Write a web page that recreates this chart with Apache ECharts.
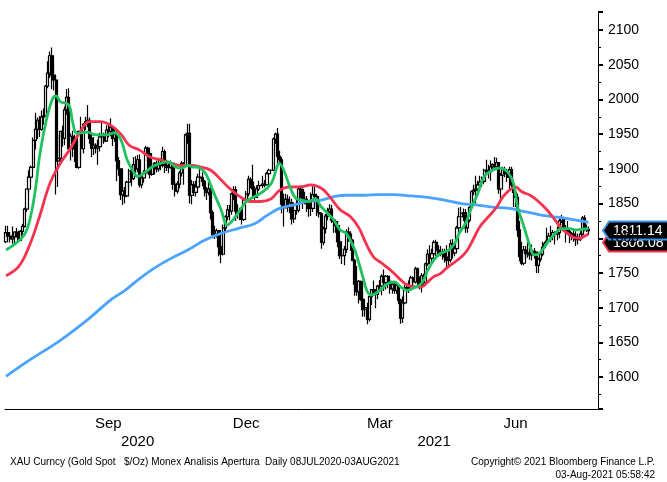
<!DOCTYPE html>
<html>
<head>
<meta charset="utf-8">
<script src="https://cdn.jsdelivr.net/npm/echarts@6/dist/echarts.min.js"></script>
<style>
  html, body { margin: 0; padding: 0; background: #fff; }
  #chart { width: 667px; height: 482px; }
</style>
</head>
<body>
<div id="chart"></div>
<script>
// XAU daily bars 08JUL2020 - 03AUG2021
const closeP = [
  1808,1803,1799,1802,1809,1807,1797,1810,1817,1842,1871,1888,1902,1941,1957,1970,1957,1975,
  1976,2019,2038,2063,2035,2028,1911,1915,1954,1944,1985,2003,1929,1947,1940,1929,1902,1954,1929,1964,1968,
  1970,1944,1930,1934,1930,1932,1946,1946,1940,1956,1954,1960,1944,1950,1912,1900,1863,1868,1861,1881,1897,1886,
  1906,1900,1913,1877,1887,1894,1930,1922,1892,1902,1908,1900,1905,1907,1925,1905,1902,1902,1908,1878,1868,1878,
  1894,1908,1904,1949,1951,1862,1877,1866,1874,1888,1887,1882,1871,1866,1871,1837,1805,1806,1811,1788,1777,
  1815,1831,1841,1839,1864,1870,1839,1837,1839,1827,1855,1864,1885,1881,1871,1859,1871,1876,1876,1878,1877,1893,1898,
  1898,1943,1950,1918,1913,1849,1844,1856,1845,1851,1828,1840,1840,1871,1870,1855,1856,1850,1843,1843,1863,
  1860,1837,1835,1794,1814,1832,1838,1842,1826,1824,1818,1795,1775,1775,1784,1809,1806,1797,1768,1734,
  1723,1738,1712,1697,1700,1683,1716,1726,1722,1719,1731,1731,1745,1736,1745,1738,1727,1734,1725,1732,1711,1685,1707,
  1728,1729,1728,1743,1737,1756,1744,1732,1746,1736,1763,1777,1771,1778,1794,1783,1777,1780,1778,1773,1768,1769,
  1792,1779,1785,1815,1831,1836,1837,1815,1826,1844,1867,1869,1871,1877,1881,1882,1898,1896,1896,1903,1906,
  1903,1909,1871,1891,1899,1893,1888,1899,1877,1866,1859,1812,1774,1764,1783,1778,1779,1776,1781,1780,1761,1770,
  1777,1787,1792,1796,1803,1803,1808,1806,1808,1825,1829,1812,1813,1810,1804,1806,1802,1798,1799,1806,1829,1814,
  1813,1811
];
const openP = [
  1795,1808,1803,1799,1802,1809,1807,1797,1810,1817,1842,1871,1888,1902,1941,1957,1970,1957,
  1975,1976,2019,2038,2063,2035,2028,1911,1915,1954,1944,1985,2003,1929,1947,1940,1929,1902,1954,1929,1964,
  1968,1970,1944,1930,1934,1930,1932,1946,1946,1940,1956,1954,1960,1944,1950,1912,1900,1863,1868,1861,1881,1897,
  1886,1906,1900,1913,1877,1887,1894,1930,1922,1892,1902,1908,1900,1905,1907,1925,1905,1902,1902,1908,1878,1868,
  1878,1894,1908,1904,1949,1951,1862,1877,1866,1874,1888,1887,1882,1871,1866,1871,1837,1805,1806,1811,1788,
  1777,1815,1831,1841,1839,1864,1870,1839,1837,1839,1827,1855,1864,1885,1881,1871,1859,1871,1876,1876,1878,1877,1893,
  1898,1898,1943,1950,1918,1913,1849,1844,1856,1845,1851,1828,1840,1840,1871,1870,1855,1856,1850,1843,1843,
  1863,1860,1837,1835,1794,1814,1832,1838,1842,1826,1824,1818,1795,1775,1775,1784,1809,1806,1797,1768,
  1734,1723,1738,1712,1697,1700,1683,1716,1726,1722,1719,1731,1731,1745,1736,1745,1738,1727,1734,1725,1732,1711,1685,
  1707,1728,1729,1728,1743,1737,1756,1744,1732,1746,1736,1763,1777,1771,1778,1794,1783,1777,1780,1778,1773,1768,
  1769,1792,1779,1785,1815,1831,1836,1837,1815,1826,1844,1867,1869,1871,1877,1881,1882,1898,1896,1896,1903,
  1906,1903,1909,1871,1891,1899,1893,1888,1899,1877,1866,1859,1812,1774,1764,1783,1778,1779,1776,1781,1780,1761,
  1770,1777,1787,1792,1796,1803,1803,1808,1806,1808,1825,1829,1812,1813,1810,1804,1806,1802,1798,1799,1806,1829,
  1814,1813
];
const highP = [
  1818,1818,1809,1817,1810,1815,1811,1812,1821,1844,1872,1898,1905,1945,1981,1974,1976,1984,
  1987,2021,2055,2069,2075,2050,2032,1949,1955,1962,1990,2015,2016,1951,1955,1949,1943,1955,1975,1966,1975,
  1992,1974,1949,1946,1937,1942,1952,1966,1952,1963,1966,1973,1962,1959,1956,1917,1901,1875,1874,1883,1900,1901,
  1917,1918,1920,1921,1893,1898,1933,1932,1926,1909,1910,1912,1916,1915,1932,1928,1913,1911,1912,1910,1882,1882,
  1897,1911,1910,1951,1965,1965,1884,1882,1883,1893,1901,1895,1884,1874,1882,1876,1840,1818,1814,1812,1792,
  1820,1833,1848,1848,1866,1875,1875,1849,1844,1845,1857,1868,1890,1888,1906,1875,1876,1883,1877,1890,1884,1896,1900,
  1899,1945,1952,1959,1926,1917,1864,1864,1863,1860,1857,1841,1855,1873,1876,1872,1867,1861,1853,1866,1875,
  1875,1864,1845,1837,1817,1835,1844,1849,1848,1829,1826,1825,1799,1786,1789,1813,1816,1810,1799,1770,
  1760,1740,1738,1723,1703,1707,1718,1726,1739,1727,1733,1740,1748,1755,1747,1747,1741,1738,1737,1735,1733,1713,1716,
  1733,1732,1739,1746,1745,1759,1758,1745,1750,1749,1765,1784,1790,1785,1797,1798,1790,1789,1785,1785,1790,1781,
  1798,1799,1793,1818,1844,1845,1843,1842,1830,1846,1869,1877,1890,1883,1890,1889,1900,1913,1906,1912,1908,
  1917,1916,1909,1894,1903,1903,1900,1903,1903,1878,1870,1864,1825,1795,1789,1789,1795,1787,1791,1786,1781,1772,
  1781,1795,1795,1815,1808,1818,1812,1810,1817,1829,1834,1831,1819,1825,1814,1809,1812,1810,1807,1810,1832,1833,
  1820,1817
];
const lowP = [
  1793,1797,1794,1792,1791,1801,1795,1796,1805,1815,1838,1864,1882,1900,1928,1943,1946,1955,
  1964,1975,2016,2031,2015,2013,1863,1874,1910,1932,1934,1978,1927,1912,1917,1910,1901,1900,1911,1922,1956,
  1960,1936,1917,1920,1922,1906,1925,1937,1936,1939,1945,1947,1933,1939,1882,1890,1855,1848,1850,1859,1874,1875,
  1884,1889,1895,1873,1872,1880,1890,1911,1886,1890,1892,1895,1896,1898,1902,1894,1897,1894,1900,1870,1860,1864,
  1872,1889,1877,1902,1936,1850,1849,1861,1860,1871,1873,1875,1860,1855,1862,1827,1800,1799,1801,1774,1764,
  1775,1808,1826,1826,1834,1855,1825,1828,1826,1820,1825,1850,1860,1872,1857,1853,1859,1868,1875,1872,1873,1876,1888,
  1897,1897,1936,1901,1906,1836,1817,1843,1838,1836,1820,1822,1834,1837,1858,1842,1849,1838,1831,1832,1838,
  1845,1832,1830,1785,1790,1807,1826,1832,1822,1808,1808,1787,1770,1763,1761,1779,1795,1782,1767,1717,
  1717,1706,1710,1687,1687,1676,1680,1704,1719,1699,1712,1723,1718,1724,1726,1728,1720,1720,1720,1720,1705,1677,1678,
  1705,1724,1721,1725,1727,1735,1731,1726,1722,1733,1735,1760,1763,1764,1774,1774,1774,1774,1769,1765,1757,1760,
  1765,1771,1774,1782,1813,1823,1825,1808,1808,1823,1842,1862,1850,1862,1869,1874,1878,1892,1886,1883,1900,
  1898,1899,1864,1855,1883,1888,1881,1869,1874,1845,1845,1802,1767,1761,1761,1771,1772,1769,1768,1771,1750,1750,
  1766,1774,1785,1791,1793,1795,1797,1791,1797,1800,1822,1809,1794,1806,1793,1797,1795,1789,1791,1796,1804,1810,
  1809,1805
];

// moving averages, [trading day index, value]
const maGreen = [
  [0,1783],[8,1802],[11,1822],[14,1869],[16,1917],[19,1966],[22,1999],[24,2005],[26,1997],[30,1992],
  [32,1966],[34,1951],[39,1953],[43,1949],[48,1949],[52,1952],[55,1942],[58,1913],[61,1896],[63,1889],
  [67,1896],[70,1903],[74,1908],[78,1910],[81,1903],[84,1901],[87,1905],[89,1903],[93,1901],[96,1891],
  [99,1869],[103,1841],[106,1819],[108,1824],[111,1836],[115,1853],[117,1857],[122,1865],[127,1879],[131,1908],
  [133,1898],[136,1874],[139,1857],[142,1855],[145,1853],[148,1857],[151,1845],[154,1836],[157,1826],[160,1812],
  [163,1807],[167,1783],[169,1764],[171,1743],[173,1723],[175,1718],[179,1725],[183,1735],[186,1737],[189,1730],
  [192,1725],[195,1728],[199,1735],[202,1754],[205,1769],[208,1778],[212,1783],[215,1793],[217,1807],[220,1821],
  [223,1845],[226,1865],[229,1889],[233,1898],[236,1901],[240,1896],[243,1879],[245,1845],[248,1817],[251,1788],
  [253,1776],[256,1780],[260,1797],[263,1807],[266,1814],[270,1814],[273,1812],[276,1813],[279,1814]
];
const maRed = [
  [0,1746],[6,1759],[11,1788],[16,1831],[21,1879],[26,1908],[31,1930],[35,1951],[40,1968],[45,1968],
  [50,1963],[55,1950],[59,1934],[64,1927],[69,1917],[74,1913],[79,1908],[83,1905],[88,1905],[93,1903],
  [98,1898],[103,1884],[107,1872],[112,1860],[117,1853],[122,1853],[127,1857],[131,1869],[136,1874],[141,1874],
  [146,1877],[151,1872],[155,1860],[160,1841],[165,1831],[169,1815],[172,1795],[176,1773],[180,1764],[183,1757],
  [186,1749],[189,1740],[192,1733],[196,1730],[199,1730],[202,1737],[205,1745],[208,1749],[211,1757],[215,1766],
  [218,1773],[221,1783],[224,1800],[227,1817],[231,1831],[235,1845],[238,1860],[241,1869],[244,1874],[247,1867],
  [251,1862],[255,1853],[259,1841],[263,1826],[266,1814],[269,1807],[272,1801],[275,1800],[277,1803],[279,1806]
];
const maBlue = [
  [0,1601],[11,1624],[26,1653],[40,1685],[50,1711],[57,1725],[64,1742],[71,1757],[79,1771],[87,1783],
  [95,1797],[103,1807],[111,1814],[119,1821],[125,1833],[131,1843],[138,1848],[144,1853],[151,1855],[157,1860],
  [163,1862],[172,1862],[178,1863],[186,1863],[194,1861],[202,1859],[210,1855],[218,1850],[225,1848],[233,1845],
  [241,1843],[249,1838],[257,1833],[265,1830],[273,1826],[277,1824],[279,1823]
];

const lastPrice = 1811.14;
const lastRed = 1806.08;

const monthLabels = { "2020-09-15": "Sep", "2020-12-16": "Dec", "2021-03-16": "Mar", "2021-06-15": "Jun" };
const yearLabels = { "2020-10-05": "2020", "2021-04-21": "2021" };
const yearSplit = "2021-01-01";

// weekday calendar 08JUL2020 .. plus a few empty days on the right
const dates = [];
let d = new Date(Date.UTC(2020, 6, 8));
while (dates.length < 284) {
  const wd = d.getUTCDay();
  if (wd !== 0 && wd !== 6) dates.push(d.toISOString().slice(0, 10));
  d = new Date(d.getTime() + 86400000);
}
const monthStart = (idx, val) => idx > 0 && val.slice(0, 7) !== dates[idx - 1].slice(0, 7);

const candles = closeP.map((c, i) => [openP[i], c, lowP[i], highP[i]]);

const FONT = "Liberation Sans";
const gridRight = 69;

const myChart = echarts.init(document.getElementById("chart"));
const option = {
  animation: false,
  backgroundColor: "#fff",
  grid: { left: 5, right: gridRight, top: 12, bottom: 73 },
  xAxis: [
    {
      type: "category",
      data: dates,
      boundaryGap: true,
      axisLine: { lineStyle: { color: "#000", width: 1 } },
      axisTick: { interval: monthStart, length: 5, lineStyle: { color: "#000" } },
      axisLabel: {
        interval: (idx, val) => monthLabels[val] !== undefined,
        formatter: val => monthLabels[val] || "",
        color: "#000",
        fontFamily: FONT,
        fontSize: 15,
        margin: 7
      },
      splitLine: { show: false }
    },
    {
      type: "category",
      data: dates,
      position: "bottom",
      offset: 23,
      axisLine: { show: false },
      axisTick: {
        interval: (idx, val) => val === yearSplit,
        length: 20,
        lineStyle: { color: "#777" }
      },
      axisLabel: {
        interval: (idx, val) => yearLabels[val] !== undefined,
        formatter: val => yearLabels[val] || "",
        color: "#000",
        fontFamily: FONT,
        fontSize: 15,
        margin: 2
      },
      splitLine: { show: false }
    }
  ],
  yAxis: {
    type: "value",
    position: "right",
    min: 1554,
    max: 2126,
    minInterval: 50,
    maxInterval: 50,
    axisLine: { show: true, lineStyle: { color: "#000", width: 1 } },
    axisTick: { show: true, length: 5, lineStyle: { color: "#000", width: 2 } },
    minorTick: { show: true, splitNumber: 2, length: 3, lineStyle: { color: "#000" } },
    axisLabel: {
      formatter: v => (v % 50 === 0 ? String(v) : ""),
      color: "#000",
      fontFamily: FONT,
      fontSize: 14,
      margin: 10,
      showMinLabel: false,
      showMaxLabel: false
    },
    splitLine: { show: false }
  },
  series: [
    {
      name: "XAU",
      type: "candlestick",
      data: candles,
      barWidth: 2.8,
      itemStyle: {
        color: "#fff",
        color0: "#000",
        borderColor: "#000",
        borderColor0: "#000",
        borderWidth: 1.2
      },
      z: 2
    },
    {
      name: "MA blue",
      type: "line",
      data: maBlue,
      smooth: 0.4,
      symbol: "none",
      lineStyle: { color: "#4aa3ff", width: 2.8 },
      z: 3
    },
    {
      name: "MA red",
      type: "line",
      data: maRed,
      smooth: 0.4,
      symbol: "none",
      lineStyle: { color: "#f5334f", width: 2.8 },
      z: 4
    },
    {
      name: "MA green",
      type: "line",
      data: maGreen,
      smooth: 0.4,
      symbol: "none",
      lineStyle: { color: "#1fc25e", width: 2.8 },
      z: 5
    }
  ]
};
myChart.setOption(option);

// price tags on the right axis
const W = myChart.getWidth();
const tagX = W - gridRight + 5;
const tag = (y, stroke, text) => ({
  type: "group",
  children: [
    {
      type: "polygon",
      shape: { points: [[tagX, y], [tagX + 6, y - 9], [W + 2, y - 9], [W + 2, y + 9], [tagX + 6, y + 9]] },
      style: { fill: "#000", stroke: stroke, lineWidth: 2 }
    },
    {
      type: "text",
      style: { text: text, x: tagX + 10, y: y + 1, fill: "#fff", font: "14px " + FONT, verticalAlign: "middle" }
    }
  ]
});
const yBlue = myChart.convertToPixel({ yAxisIndex: 0 }, lastPrice);
const yRed = Math.max(myChart.convertToPixel({ yAxisIndex: 0 }, lastRed), yBlue + 12);

myChart.setOption({
  graphic: [
    tag(yRed, "#f5334f", lastRed.toFixed(2)),
    tag(yBlue, "#3d8fe8", lastPrice.toFixed(2)),
    {
      type: "text",
      left: 10,
      top: 457,
      style: {
        text: "XAU Curncy (Gold Spot   $/Oz) Monex Analisis Apertura  Daily 08JUL2020-03AUG2021",
        fill: "#000",
        font: "10px " + FONT
      }
    },
    {
      type: "text",
      right: 12,
      top: 457,
      style: { text: "Copyright\u00a9 2021 Bloomberg Finance L.P.", fill: "#000", font: "10px " + FONT }
    },
    {
      type: "text",
      right: 12,
      top: 470,
      style: { text: "03-Aug-2021 05:58:42", fill: "#000", font: "10px " + FONT }
    }
  ]
});
</script>
</body>
</html>
